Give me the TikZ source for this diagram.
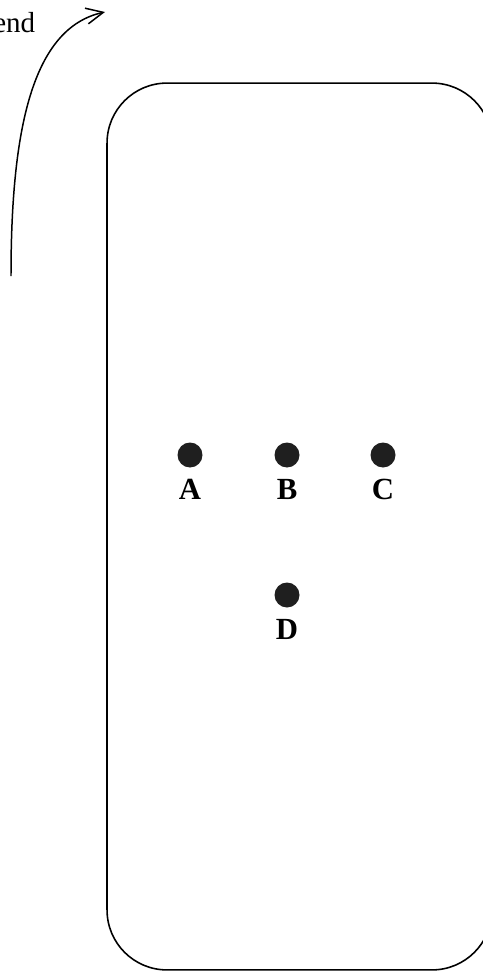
\documentclass[tikz,border=0pt]{standalone}
\usepackage{fontspec}
\setmainfont{Liberation Serif}
\usetikzlibrary{arrows.meta,positioning}

\begin{document}
\begin{tikzpicture}[
  x=0.02cm, y=-0.02cm,
  font=\fontsize{16.5}{20}\selectfont,
  panel/.style={draw, line width=0.9pt, rounded corners=1.2cm,
                minimum width=7.7cm, minimum height=17.74cm, inner sep=0pt},
  dot/.style={circle, fill=black!88, inner sep=0pt, minimum size=0.5cm},
  lbl/.style={font=\fontsize{17.5}{21}\selectfont\bfseries, inner sep=0pt},
  arrow/.style={-{Straight Barb[length=3.4mm,width=3.2mm]}, line width=0.85pt}
]
\clip (0,0) rectangle (483,973);

\node[panel] (board) at (299.5,526.5) {};

\node[dot] (a) at (190,455) {};
\node[dot] (b) at (287,455) {};
\node[dot] (c) at (383,455) {};
\node[dot] (d) at (287,595) {};

\node[lbl, below=0.22cm of a] (la) {A};
\node[lbl, below=0.22cm of b] (lb) {B};
\node[lbl, below=0.22cm of c] (lc) {C};
\node[lbl, below=0.22cm of d] (ld) {D};

\node[anchor=base west, inner sep=0pt] (trend) at (-7,33) {end};
\coordinate (tail) at (11,276);
\coordinate (head) at (105,12);
\draw[arrow] (tail) .. controls (11,130) and (32,28) .. (head);
\end{tikzpicture}
\end{document}
